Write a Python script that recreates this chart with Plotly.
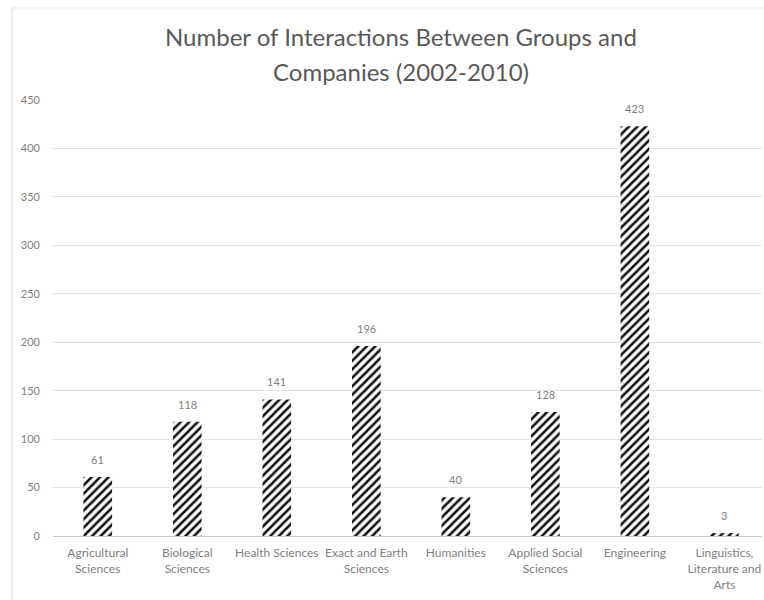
import plotly.graph_objects as go

# Interaction counts by knowledge area, 2002-2010
categories = [
    "Agricultural<br>Sciences",
    "Biological<br>Sciences",
    "Health Sciences",
    "Exact and Earth<br>Sciences",
    "Humanities",
    "Applied Social<br>Sciences",
    "Engineering",
    "Linguistics,<br>Literature and<br>Arts",
]
interactions = [61, 118, 141, 196, 40, 128, 423, 3]
y_ticks = [0, 50, 100, 150, 200, 250, 300, 350, 400, 450]

W, H = 764, 600
L, R, T, B = 53, 2, 100, 64
plot_w = W - L - R
plot_h = H - T - B

def px_x(p):
    return (p - L) / plot_w

def px_y(p):
    return (H - B - p) / plot_h

FONT = "Lato, Open Sans, sans-serif"
TEXT_GRAY = "#808080"

x_pos = list(range(len(categories)))

fig = go.Figure(
    go.Bar(
        x=x_pos,
        y=interactions,
        width=0.32,
        marker=dict(
            color="white",
            line=dict(width=0),
            pattern=dict(shape="/", fgcolor="#111111", bgcolor="white",
                         fgopacity=1, size=6, solidity=0.42),
        ),
        hoverinfo="skip",
    )
)

# Value labels above each bar
for xi, v in zip(x_pos, interactions):
    fig.add_annotation(
        x=xi, y=v, xref="x", yref="y",
        text=str(v), showarrow=False,
        yanchor="bottom", yshift=9,
        font=dict(family=FONT, size=11, color=TEXT_GRAY),
    )

fig.update_layout(
    width=W,
    height=H,
    margin=dict(l=L, r=R, t=T, b=B, pad=0),
    paper_bgcolor="white",
    plot_bgcolor="white",
    showlegend=False,
    font=dict(family=FONT, color=TEXT_GRAY),
    xaxis=dict(
        tickmode="array",
        tickvals=x_pos,
        ticktext=categories,
        range=[-0.5, 7.42],
        showgrid=False,
        zeroline=False,
        showline=True,
        linecolor="#c8c8c8",
        linewidth=1,
        ticks="",
        ticklabelstandoff=6,
        tickfont=dict(family=FONT, size=12, color=TEXT_GRAY),
        fixedrange=True,
    ),
    yaxis=dict(
        range=[0, 450],
        tickmode="array",
        tickvals=y_ticks,
        ticktext=[str(v) for v in y_ticks],
        showgrid=True,
        gridcolor="#e3e3e3",
        gridwidth=1,
        zeroline=False,
        showline=False,
        ticks="",
        ticklabelstandoff=12,
        tickfont=dict(family=FONT, size=11, color=TEXT_GRAY),
        fixedrange=True,
    ),
)

# Two-line chart title
title_lines = ["Number of Interactions Between Groups and", "Companies (2002-2010)"]
for line, ypx in zip(title_lines, [37, 72]):
    fig.add_annotation(
        text=line,
        xref="paper", yref="paper",
        x=px_x(401), y=px_y(ypx),
        xanchor="center", yanchor="middle",
        showarrow=False,
        font=dict(family=FONT, size=24, color="#595959"),
    )

# Chart-area border
fig.add_shape(type="line", xref="paper", yref="paper",
              x0=px_x(12), x1=px_x(12), y0=px_y(8), y1=px_y(600),
              line=dict(color="#d9d9d9", width=1))
fig.add_shape(type="line", xref="paper", yref="paper",
              x0=px_x(12), x1=px_x(764), y0=px_y(8), y1=px_y(8),
              line=dict(color="#e6e6e6", width=1))

fig.write_html("out.html")
